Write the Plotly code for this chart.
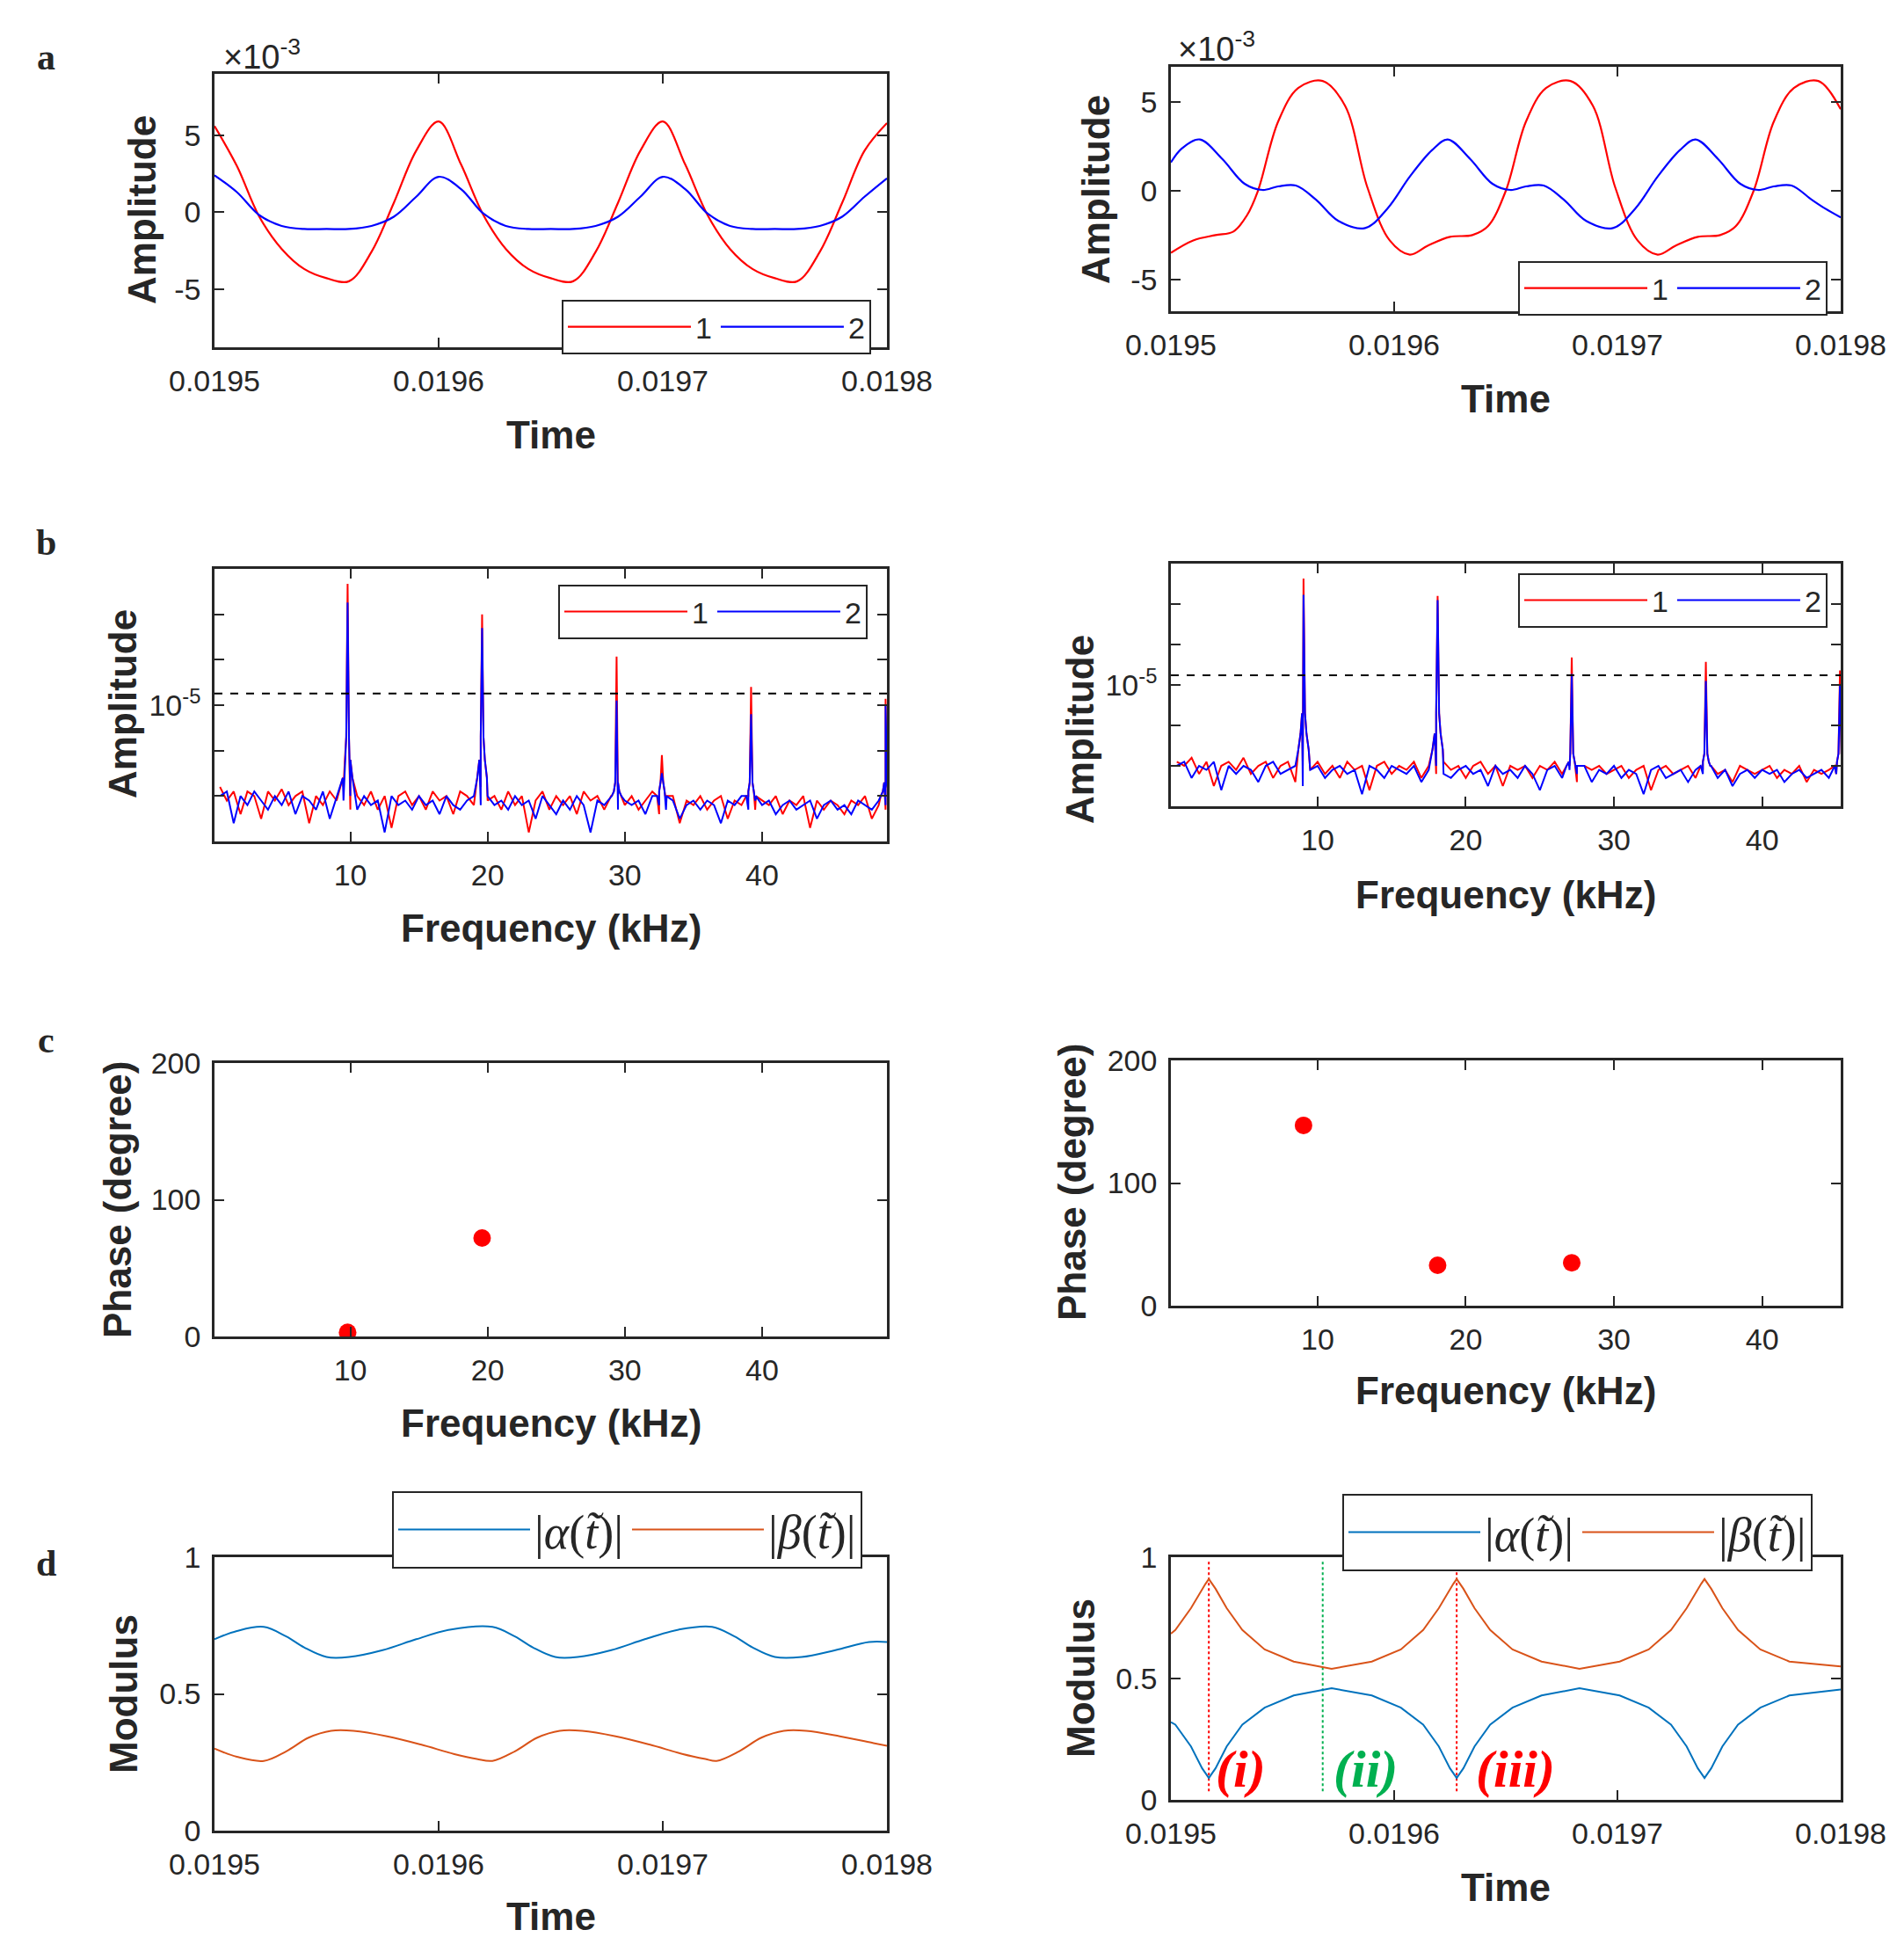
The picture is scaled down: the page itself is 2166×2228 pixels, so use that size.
import plotly.graph_objects as go

W, H = 2166, 2228

# ---------------- DATA ----------------
TA_L = [0,10,20,30,40,50,60,70,80,90,100,110,120,130,140,150,160,170,180,190,200,210,220,230,240,250,260,270,280,290,300]
A_L_RED = [5.6,3.0,-0.3,-2.4,-3.7,-4.3,-4.5,-2.6,0.6,4.0,5.9, 3.1,-0.2,-2.4,-3.7,-4.3,-4.5,-2.6,0.6,4.0,5.9, 3.1,-0.2,-2.4,-3.7,-4.3,-4.5,-2.6,0.6,4.0,5.8]
A_L_BLUE = [2.4,1.3,-0.2,-0.9,-1.1,-1.1,-1.1,-0.9,-0.3,1.0,2.3, 1.5,-0.1,-0.9,-1.1,-1.1,-1.1,-0.9,-0.3,1.0,2.3, 1.5,-0.1,-0.9,-1.1,-1.1,-1.1,-0.9,-0.3,1.0,2.2]

TA_R_RED = [0,10,20,28,34,39,48,57,68,78,88,98,107,115,125,135,142,150,159,168,179,189,199,209,218,226,236,246,253,261,270,279,290,300]
A_R_RED = [-3.5,-2.8,-2.5,-2.3,-1.4,0,3.9,5.8,6.2,4.8,0.2,-2.8,-3.6,-3.1,-2.6,-2.5,-2.0,0,3.9,5.8,6.2,4.8,0.2,-2.8,-3.6,-3.1,-2.6,-2.5,-2.0,0,3.9,5.8,6.2,4.6]
TA_R_BLUE = [0,5,13,23,33,41,48,56,65,75,87,97,107,117,124,134,144,152,159,167,176,186,198,208,218,228,235,245,255,263,270,278,287,293,300]
A_R_BLUE = [1.6,2.4,2.9,1.8,0.4,0.05,0.25,0.3,-0.5,-1.7,-2.1,-1.0,0.8,2.3,2.9,1.8,0.4,0.05,0.25,0.3,-0.5,-1.7,-2.1,-1.0,0.8,2.3,2.9,1.8,0.4,0.05,0.25,0.3,-0.5,-1.0,-1.5]

NOISE_L_RED = [-6.8,-7.1,-6.9,-7.4,-6.9,-7.0,-7.5,-6.9,-7.1,-6.85,
               -7.2,-7.0,-6.9,-7.6,-7.0,-7.2,-6.9,-7.1,-6.8,-7.3,
               -7.0,-7.2,-6.9,-7.3,-7.0,-7.7,-7.0,-6.9,-7.2,-7.0,
               -7.3,-6.9,-7.1,-7.0,-7.4,-6.9,-7.0,-7.2,-6.8,-7.1,
               -7.0,-7.3,-6.9,-7.2,-7.0,-7.8,-7.1,-6.9,-7.3,-7.0,
               -7.2,-7.0,-7.4,-6.9,-7.1,-7.0,-7.3,-7.0,-7.1,-7.2,
               -7.0,-7.3,-7.1,-6.9,-7.4,-7.1,-7.0,-7.6,-7.1,-7.2,
               -7.0,-7.3,-7.1,-7.0,-7.5,-7.1,-7.2,-7.0,-7.3,-7.1,
               -7.2,-7.0,-7.4,-7.1,-7.2,-7.0,-7.7,-7.1,-7.3,-7.1,
               -7.2,-7.4,-7.1,-7.2,-7.0,-7.5,-7.2,-7.3]
NOISE_L_BLUE = [-7.0,-6.9,-7.6,-7.0,-7.2,-6.9,-7.1,-7.3,-7.0,-7.2,
                -6.9,-7.4,-7.0,-7.1,-7.3,-6.9,-7.5,-7.0,-7.1,-7.0,
                -7.3,-7.0,-7.2,-7.1,-7.8,-7.0,-7.2,-7.1,-7.3,-7.0,
                -7.2,-7.1,-7.4,-7.0,-7.2,-7.3,-7.1,-7.0,-7.2,-7.0,
                -7.2,-7.1,-7.3,-7.0,-7.2,-7.1,-7.5,-7.0,-7.2,-7.4,
                -7.1,-7.3,-7.0,-7.2,-7.8,-7.1,-7.2,-7.0,-7.3,-7.1,
                -7.2,-7.1,-7.4,-7.0,-7.2,-7.3,-7.1,-7.5,-7.2,-7.1,
                -7.3,-7.1,-7.2,-7.6,-7.1,-7.2,-7.0,-7.3,-7.1,-7.2,
                -7.1,-7.4,-7.2,-7.1,-7.3,-7.2,-7.1,-7.5,-7.2,-7.1,
                -7.3,-7.2,-7.4,-7.1,-7.2,-7.3,-7.1,-7.2]
NOISE_R_RED = [-6.9,-7.0,-6.8,-7.2,-6.9,-7.5,-7.0,-6.9,-7.1,-6.8,
               -7.2,-7.0,-6.9,-7.3,-7.0,-6.9,-7.4,-7.0,-7.1,-6.9,
               -7.2,-7.0,-7.3,-6.9,-7.1,-7.0,-7.6,-7.0,-6.9,-7.2,
               -7.0,-7.1,-6.9,-7.3,-7.0,-7.2,-6.9,-7.1,-7.0,-7.3,
               -7.0,-6.9,-7.2,-7.0,-7.5,-7.0,-7.1,-7.0,-7.3,-7.0,
               -7.1,-6.9,-7.2,-7.0,-7.4,-7.0,-7.1,-7.0,-7.2,-7.1,
               -7.0,-7.3,-7.1,-7.0,-7.6,-7.1,-7.0,-7.2,-7.1,-7.0,
               -7.3,-7.1,-7.0,-7.2,-7.1,-7.4,-7.0,-7.1,-7.2,-7.1,
               -7.0,-7.3,-7.1,-7.2,-7.0,-7.4,-7.1,-7.2,-7.1,-7.2]
NOISE_R_BLUE = [-7.0,-6.9,-7.3,-7.0,-7.1,-6.9,-7.6,-7.0,-7.2,-7.0,
                -7.1,-7.4,-7.0,-6.9,-7.2,-7.1,-7.0,-7.5,-7.1,-7.0,
                -7.3,-7.1,-7.0,-7.2,-7.1,-7.7,-7.0,-7.1,-7.3,-7.0,
                -7.1,-7.2,-7.0,-7.4,-7.1,-7.0,-7.2,-7.3,-7.1,-7.0,
                -7.2,-7.1,-7.5,-7.0,-7.2,-7.1,-7.3,-7.0,-7.2,-7.6,
                -7.1,-7.0,-7.3,-7.1,-7.2,-7.0,-7.4,-7.1,-7.2,-7.0,
                -7.3,-7.1,-7.2,-7.7,-7.1,-7.0,-7.3,-7.2,-7.1,-7.4,
                -7.1,-7.2,-7.0,-7.3,-7.1,-7.5,-7.2,-7.1,-7.3,-7.1,
                -7.2,-7.1,-7.4,-7.2,-7.1,-7.3,-7.2,-7.1,-7.3,-7.2]
PEAK_F_L = [9.8, 19.6, 29.4, 32.7, 39.2, 49.0]
PEAK_L_RED = [-2.33, -3.0, -3.93, -6.1, -4.6, -4.86]
PEAK_L_BLUE = [-2.74, -3.3, -4.9, -6.5, -5.2, -5.0]
PEAK_F_R = [9.05, 18.1, 27.15, 36.2, 45.25]
PEAK_R_RED = [-2.37, -2.8, -4.32, -4.43, -4.64]
PEAK_R_BLUE = [-2.77, -2.9, -4.73, -4.9, -5.0]
SHOULDER_DF = [-0.35, -0.2, -0.1, 0.1, 0.2, 0.35]
SHOULDER_STRONG = [-6.6, -6.2, -5.7, -5.7, -6.2, -6.6]
SHOULDER_WEAK = [-7.0, -6.9, -6.7, -6.7, -6.9, -7.0]
STRONG_L = [True, True, False, False, False, False]
STRONG_R = [True, True, False, False, False]
THRESH_L = 1.8e-5
THRESH_R = 1.73e-5

PH_F_L = [9.8, 19.6]
PH_L = [3, 72]
PH_F_R = [9.05, 18.1, 27.15]
PH_R = [147, 33, 35]

TD_L_A = [0,10,22,32,40,50,60,75,90,105,124,134,142,152,162,177,192,207,222,232,240,250,262,277,292,300]
D_L_A = [0.70,0.73,0.745,0.71,0.67,0.635,0.635,0.66,0.70,0.735,0.745,0.71,0.67,0.635,0.635,0.66,0.70,0.735,0.745,0.71,0.67,0.635,0.635,0.66,0.69,0.69]
TD_L_B = [0,10,22,32,42,52,62,77,92,107,117,124,134,144,154,164,179,194,209,219,224,234,244,254,264,279,294,300]
D_L_B = [0.30,0.27,0.255,0.29,0.34,0.365,0.365,0.345,0.315,0.28,0.262,0.255,0.29,0.34,0.365,0.365,0.345,0.315,0.28,0.262,0.255,0.29,0.34,0.365,0.365,0.345,0.32,0.31]

TD_R = [0,2,9,14,15.5,17,18.5,20,25,32,42,55,72,90,103,113,120,125,126.5,128,129.5,131,136,143,153,166,183,201,214,224,231,236,237.5,239,240.5,242,247,254,264,277,300]
D_R_A = [0.32,0.31,0.22,0.13,0.11,0.09,0.11,0.13,0.22,0.31,0.38,0.43,0.46,0.43,0.38,0.31,0.22,0.13,0.11,0.09,0.11,0.13,0.22,0.31,0.38,0.43,0.46,0.43,0.38,0.31,0.22,0.13,0.11,0.09,0.11,0.13,0.22,0.31,0.38,0.43,0.455]
D_R_B = [0.685,0.70,0.79,0.87,0.89,0.91,0.89,0.87,0.79,0.70,0.62,0.57,0.54,0.57,0.62,0.70,0.79,0.87,0.89,0.91,0.89,0.87,0.79,0.70,0.62,0.57,0.54,0.57,0.62,0.70,0.79,0.87,0.89,0.91,0.89,0.87,0.79,0.70,0.62,0.57,0.55]
VLINE_T = [0.019517, 0.019568, 0.019628]
VLINE_COL = ["#ff0000", "#00b050", "#ff0000"]
VLINE_Y = [0.035, 0.985]
MARK_TEXT = ["(i)", "(ii)", "(iii)"]

T0 = 0.0195
TIME_TICKS = [0.0195, 0.0196, 0.0197, 0.0198]
TIME_LABELS = ["0.0195", "0.0196", "0.0197", "0.0198"]
FREQ_TICKS = [10, 20, 30, 40]
AMP_TICKS = [-5, 0, 5]
AMP_LABELS = ["-5", "0", "5"]
LOG_TICKS = [1e-3, 1e-4, 1e-5, 1e-6, 1e-7]
LOG_LABELS = [" ", " ", "10<sup>-5</sup>", " ", " "]

RED, BLUE = "#ff0000", "#0000ff"
MB, MO = "#0072BD", "#D95319"
AX = "#262626"
SANS = "Liberation Sans, Arial, sans-serif"
SERIF = "Liberation Serif, Times New Roman, serif"

# ---------------- FIGURE ----------------
fig = go.Figure()

def dom(x0, x1, y0, y1):
    return [x0 / W, x1 / W], [1 - y1 / H, 1 - y0 / H]

BOXES = {
    1: (236, 1001, 76, 387), 2: (1324, 2086, 68, 346),
    3: (236, 1001, 639, 949), 4: (1324, 2086, 633, 909),
    5: (236, 1001, 1201, 1512), 6: (1324, 2086, 1198, 1477),
    7: (236, 1001, 1763, 2074), 8: (1324, 2086, 1763, 2039),
}

def axis(d, rng, tv, tt=None, typ="linear", anchor=None):
    a = dict(domain=d, range=rng, tickvals=tv, type=typ, ticks="inside", ticklen=11,
             tickwidth=2, tickcolor=AX, showline=True, linecolor=AX, linewidth=2.5,
             mirror="ticks", showgrid=False, zeroline=False, anchor=anchor, automargin=False,
             tickfont=dict(family=SANS, size=34, color=AX), ticklabelstandoff=6)
    if tt is not None:
        a["ticktext"] = tt
    return a

layout = dict(width=W, height=H, margin=dict(l=0, r=0, t=0, b=0, pad=0, autoexpand=False),
              autosize=False, plot_bgcolor="white", paper_bgcolor="white")

for i in range(1, 9):
    xd, yd = dom(*BOXES[i])
    xn = "xaxis" if i == 1 else f"xaxis{i}"
    yn = "yaxis" if i == 1 else f"yaxis{i}"
    xa = "x" if i == 1 else f"x{i}"
    ya = "y" if i == 1 else f"y{i}"
    if i in (1, 2, 7, 8):
        layout[xn] = axis(xd, [0.0195, 0.0198], TIME_TICKS, TIME_LABELS, anchor=ya)
    elif i in (3, 5):
        layout[xn] = axis(xd, [0.1, 49.1], FREQ_TICKS, anchor=ya)
    else:
        layout[xn] = axis(xd, [0.1, 45.3], FREQ_TICKS, anchor=ya)
    if i == 1:
        layout[yn] = axis(yd, [-8.8, 9.0], AMP_TICKS, AMP_LABELS, anchor=xa)
    elif i == 2:
        layout[yn] = axis(yd, [-6.8, 7.0], AMP_TICKS, AMP_LABELS, anchor=xa)
    elif i in (3, 4):
        layout[yn] = axis(yd, [-8, -2], LOG_TICKS, LOG_LABELS, typ="log", anchor=xa)
    elif i in (5, 6):
        layout[yn] = axis(yd, [0, 200], [0, 100, 200], anchor=xa)
    else:
        layout[yn] = axis(yd, [0, 1], [0, 0.5, 1], ["0", "0.5", "1"], anchor=xa)

def tt(offs):
    return [T0 + o * 1e-6 for o in offs]

def spec(noise, pf, pv, strong):
    pts = [(0.5 * (k + 1), noise[k]) for k in range(len(noise))]
    for f, v, s in zip(pf, pv, strong):
        lev = SHOULDER_STRONG if s else SHOULDER_WEAK
        pts.append((f, v))
        for df, lv in zip(SHOULDER_DF, lev):
            pts.append((f + df, lv))
    pts.sort()
    return [p[0] for p in pts], [10 ** p[1] for p in pts]

lw = 2.2
fig.add_trace(go.Scatter(x=tt(TA_L), y=A_L_RED, mode="lines", line=dict(color=RED, width=lw, shape="spline"), name="1", xaxis="x", yaxis="y", legend="legend"))
fig.add_trace(go.Scatter(x=tt(TA_L), y=A_L_BLUE, mode="lines", line=dict(color=BLUE, width=lw, shape="spline"), name="2", xaxis="x", yaxis="y", legend="legend"))
fig.add_trace(go.Scatter(x=tt(TA_R_RED), y=A_R_RED, mode="lines", line=dict(color=RED, width=lw, shape="spline"), name="1", xaxis="x2", yaxis="y2", legend="legend2"))
fig.add_trace(go.Scatter(x=tt(TA_R_BLUE), y=A_R_BLUE, mode="lines", line=dict(color=BLUE, width=lw, shape="spline"), name="2", xaxis="x2", yaxis="y2", legend="legend2"))
fx, fy = spec(NOISE_L_RED, PEAK_F_L, PEAK_L_RED, STRONG_L)
fig.add_trace(go.Scatter(x=fx, y=fy, mode="lines", line=dict(color=RED, width=2), name="1", xaxis="x3", yaxis="y3", legend="legend3"))
fx, fy = spec(NOISE_L_BLUE, PEAK_F_L, PEAK_L_BLUE, STRONG_L)
fig.add_trace(go.Scatter(x=fx, y=fy, mode="lines", line=dict(color=BLUE, width=2), name="2", xaxis="x3", yaxis="y3", legend="legend3"))
fig.add_trace(go.Scatter(x=[0.1, 49.1], y=[THRESH_L, THRESH_L], mode="lines", line=dict(color="black", width=2, dash="dash"), showlegend=False, xaxis="x3", yaxis="y3"))
fx, fy = spec(NOISE_R_RED, PEAK_F_R, PEAK_R_RED, STRONG_R)
fig.add_trace(go.Scatter(x=fx, y=fy, mode="lines", line=dict(color=RED, width=2), name="1", xaxis="x4", yaxis="y4", legend="legend4"))
fx, fy = spec(NOISE_R_BLUE, PEAK_F_R, PEAK_R_BLUE, STRONG_R)
fig.add_trace(go.Scatter(x=fx, y=fy, mode="lines", line=dict(color=BLUE, width=2), name="2", xaxis="x4", yaxis="y4", legend="legend4"))
fig.add_trace(go.Scatter(x=[0.1, 45.3], y=[THRESH_R, THRESH_R], mode="lines", line=dict(color="black", width=2, dash="dash"), showlegend=False, xaxis="x4", yaxis="y4"))
fig.add_trace(go.Scatter(x=PH_F_L, y=PH_L, mode="markers", marker=dict(color=RED, size=20), showlegend=False, xaxis="x5", yaxis="y5"))
fig.add_trace(go.Scatter(x=PH_F_R, y=PH_R, mode="markers", marker=dict(color=RED, size=20), showlegend=False, xaxis="x6", yaxis="y6"))
ALPHA = "|<i>α</i>(<i>t̃</i>)|"
BETA = "|<i>β</i>(<i>t̃</i>)|"
fig.add_trace(go.Scatter(x=tt(TD_L_A), y=D_L_A, mode="lines", line=dict(color=MB, width=2, shape="spline"), name=ALPHA, xaxis="x7", yaxis="y7", legend="legend5"))
fig.add_trace(go.Scatter(x=tt(TD_L_B), y=D_L_B, mode="lines", line=dict(color=MO, width=2, shape="spline"), name=BETA, xaxis="x7", yaxis="y7", legend="legend5"))
for t, c in zip(VLINE_T, VLINE_COL):
    fig.add_trace(go.Scatter(x=[t, t], y=VLINE_Y, mode="lines", line=dict(color=c, width=2, dash="dot"), showlegend=False, xaxis="x8", yaxis="y8"))
fig.add_trace(go.Scatter(x=tt(TD_R), y=D_R_A, mode="lines", line=dict(color=MB, width=2), name=ALPHA, xaxis="x8", yaxis="y8", legend="legend6"))
fig.add_trace(go.Scatter(x=tt(TD_R), y=D_R_B, mode="lines", line=dict(color=MO, width=2), name=BETA, xaxis="x8", yaxis="y8", legend="legend6"))

def leg(x0, y0, font, size, iw):
    return dict(x=x0 / W, y=1 - y0 / H, xanchor="left", yanchor="top", orientation="h",
                bordercolor=AX, borderwidth=2, bgcolor="white",
                font=dict(family=font, size=size, color=AX), itemwidth=iw)

layout["legend"] = leg(631, 333, SANS, 34, 140)
layout["legend2"] = leg(1719, 289, SANS, 34, 140)
layout["legend3"] = leg(627, 657, SANS, 34, 140)
layout["legend4"] = leg(1719, 644, SANS, 34, 140)
layout["legend5"] = leg(438, 1688, SERIF, 54, 150)
layout["legend6"] = leg(1519, 1691, SERIF, 54, 150)

ann = []
def A(x, y, text, size, family=SANS, bold=False, angle=0, color=AX, xanchor="center"):
    if bold:
        text = f"<b>{text}</b>"
    ann.append(dict(x=x / W, y=1 - y / H, xref="paper", yref="paper", text=text, showarrow=False,
                    font=dict(family=family, size=size, color=color), textangle=angle,
                    xanchor=xanchor, yanchor="middle"))

for lbl, y in zip(["a", "b", "c", "d"], [57, 609, 1175, 1770]):
    A(44, y, lbl, 42, SERIF, True)
A(290, 54, "×10<sup>-3</sup>", 38)
A(1376, 45, "×10<sup>-3</sup>", 38)
for x, y, t in [(619, 486, "Time"), (1705, 446, "Time"), (619, 1048, "Frequency (kHz)"),
                (1705, 1010, "Frequency (kHz)"), (619, 1610, "Frequency (kHz)"),
                (1705, 1573, "Frequency (kHz)"), (619, 2171, "Time"), (1705, 2138, "Time")]:
    A(x, y, t, 44, SANS, True)
for x, y, t in [(153, 231, "Amplitude"), (1239, 208, "Amplitude"), (132, 793, "Amplitude"),
                (1221, 821, "Amplitude"), (125, 1357, "Phase (degree)"), (1211, 1337, "Phase (degree)"),
                (132, 1919, "Modulus"), (1221, 1900, "Modulus")]:
    A(x, y, t, 44, SANS, True, angle=-90)
for x, t, c in zip([1403, 1545, 1716], MARK_TEXT, VLINE_COL):
    A(x, 2004, f"<i>{t}</i>", 60, SERIF, True, color=c)

layout["annotations"] = ann
fig.update_layout(**layout)
fig.write_html("out.html")
